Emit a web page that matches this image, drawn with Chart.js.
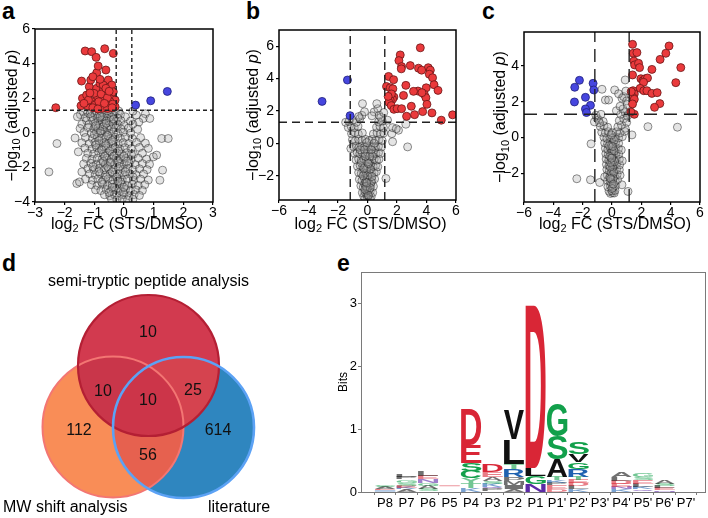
<!DOCTYPE html>
<html lang="en">
<head>
<meta charset="UTF-8" />
<title>STS proteolysis figure</title>
<script src="https://cdn.jsdelivr.net/npm/chart.js"></script>
<style>
  body { margin: 0; width: 708px; height: 518px; background: #fff; position: relative; overflow: hidden;
         font-family: "Liberation Sans", Arial, sans-serif; color: #000; }
  canvas { position: absolute; }
  .tag { position: absolute; font-weight: bold; font-size: 23px; line-height: 1; }
  .vname { position: absolute; font-size: 16px; line-height: 1; white-space: nowrap; }
</style>
</head>
<body>
<div class="tag" style="left:2px;top:0px">a</div>
<div class="tag" style="left:246px;top:0px">b</div>
<div class="tag" style="left:482px;top:0px">c</div>
<div class="tag" style="left:2px;top:252px">d</div>
<div class="tag" style="left:337px;top:252px">e</div>

<canvas id="volA" width="236" height="240" style="left:0;top:0"></canvas>
<canvas id="volB" width="236" height="240" style="left:236px;top:0"></canvas>
<canvas id="volC" width="236" height="240" style="left:472px;top:0"></canvas>
<canvas id="venn" width="330" height="278" style="left:0;top:240px"></canvas>
<canvas id="logo" width="378" height="278" style="left:330px;top:240px"></canvas>

<div class="vname" style="left:48px;top:273px">semi-tryptic peptide analysis</div>
<div class="vname" style="left:3px;top:499px">MW shift analysis</div>
<div class="vname" style="left:208px;top:499px">literature</div>

<script>
// ---------- data ----------
const pCut = 1.3;

// panel a
const aXTicks = [-3, -2, -1, 0, 1, 2, 3];
const aYTicks = [-4, -2, 0, 2, 4, 6];
const aFcCut = [-0.263, 0.263];
const aRed = [
  [-1.31,4.73],[-1.09,4.69],[-0.94,4.36],[-0.65,4.86],[-0.36,4.59],[-1.43,2.99],[-1.17,2.66],[-1.12,3.05],
  [-0.92,3.47],[-0.87,3.86],[-0.61,3.63],[-1.05,3.24],[-2.30,1.45],[-1.45,1.56],[-1.23,1.56],[-1.40,1.99],
  [-1.26,2.18],[-0.92,2.57],[-0.81,2.86],[-0.70,2.47],[-0.53,3.05],[-0.53,2.63],[-0.41,2.76],[-0.58,2.28],
  [-0.41,2.18],[-0.30,1.89],[-0.30,1.51],[-0.47,1.80],[-0.64,1.89],[-0.75,2.08],[-0.92,1.99],[-1.09,1.80],
  [-0.81,1.60],[-0.64,1.51],[-0.47,1.51],[-1.01,2.28],[-1.20,1.89],[-0.70,2.76],[-0.92,1.70],[-0.36,2.37],
  [-0.77,2.24],[-0.56,2.03],[-0.38,1.66],[-0.98,1.60],[-1.35,1.70],[-0.85,1.80],[-0.61,2.57],[-0.81,3.09],
  [-0.72,1.42],[-0.55,1.40],[-0.40,1.45],[-1.05,1.45],[-0.88,1.38],[-0.66,1.70],[-0.50,2.40],[-1.15,2.30]
];
const aBlue = [[0.39,1.60],[0.90,1.85],[1.46,2.39]];
const aGrey = [
  [-1.38,1.22],[-1.22,1.18],[-1.08,1.25],[-0.93,1.20],[-0.78,1.24],[-0.62,1.17],[-0.47,1.23],[-0.30,1.19],[-0.18,1.26],
  [-1.47,1.05],[-1.15,1.08],[-0.98,1.02],[-0.83,1.10],[-0.66,1.04],[-0.51,1.09],[-0.34,1.01],[-0.12,1.06],[0.42,1.02],[0.72,1.10],[0.30,1.25],
  [-1.57,0.93],[-1.30,0.88],[-1.12,0.93],[-0.90,0.86],[-0.72,0.92],[-0.58,0.84],[-0.42,0.90],[-0.22,0.85],[0.05,0.92],[0.65,0.83],[0.87,0.83],
  [-1.26,0.70],[-1.05,0.72],[-0.88,0.66],[-0.74,0.74],[-0.60,0.68],[-0.44,0.72],[-0.28,0.65],[-0.10,0.70],[0.22,0.68],[0.50,0.62],
  [-1.42,0.50],[-1.18,0.46],[-0.97,0.53],[-0.82,0.44],[-0.66,0.50],[-0.52,0.43],[-0.37,0.52],[-0.20,0.47],[0.00,0.42],[0.30,0.50],
  [-1.48,0.25],[-1.22,0.30],[-1.02,0.22],[-0.88,0.28],[-0.73,0.20],[-0.58,0.27],[-0.43,0.21],[-0.28,0.29],[-0.10,0.22],[0.15,0.27],[0.46,0.20],
  [-1.35,0.02],[-1.10,-0.03],[-0.93,0.05],[-0.79,-0.02],[-0.64,0.04],[-0.50,-0.05],[-0.35,0.03],[-0.20,-0.04],[-0.02,0.03],[0.22,-0.02],
  [-1.65,-0.30],[-1.30,-0.27],[-1.06,-0.33],[-0.90,-0.25],[-0.74,-0.31],[-0.60,-0.24],[-0.45,-0.34],[-0.30,-0.26],[-0.12,-0.32],[0.05,-0.25],[0.28,-0.33],[0.56,-0.28],[1.27,-0.33],[1.49,-0.33],
  [-2.26,-0.62],[-1.42,-0.58],[-1.17,-0.63],[-0.98,-0.56],[-0.83,-0.64],[-0.67,-0.57],[-0.52,-0.62],[-0.36,-0.55],[-0.20,-0.63],[-0.03,-0.57],[0.16,-0.62],[0.42,-0.55],[0.72,-0.60],
  [-1.32,-0.88],[-1.08,-0.94],[-0.92,-0.86],[-0.76,-0.93],[-0.60,-0.87],[-0.45,-0.95],[-0.30,-0.86],[-0.14,-0.93],[0.04,-0.87],[0.24,-0.92],[0.52,-0.85],[0.82,-0.90],
  [-1.54,-1.10],[-1.22,-1.18],[-1.02,-1.22],[-0.85,-1.15],[-0.70,-1.23],[-0.55,-1.16],[-0.40,-1.24],[-0.25,-1.15],[-0.08,-1.22],[0.10,-1.16],[0.32,-1.24],[0.62,-1.18],[0.99,-1.39],[1.10,-1.29],
  [-1.27,-1.48],[-1.08,-1.54],[-0.90,-1.47],[-0.74,-1.55],[-0.58,-1.46],[-0.43,-1.53],[-0.27,-1.47],[-0.10,-1.55],[0.06,-1.48],[0.24,-1.54],[0.48,-1.47],[0.76,-1.52],
  [-1.36,-1.80],[-1.12,-1.76],[-0.94,-1.84],[-0.79,-1.77],[-0.63,-1.83],[-0.48,-1.76],[-0.32,-1.84],[-0.16,-1.78],[0.00,-1.83],[0.18,-1.77],[0.38,-1.84],[0.62,-1.78],[0.86,-1.82],
  [-1.22,-2.07],[-1.02,-2.13],[-0.84,-2.06],[-0.67,-2.14],[-0.52,-2.07],[-0.36,-2.13],[-0.20,-2.06],[-0.04,-2.12],[0.12,-2.07],[0.30,-2.14],[0.52,-2.08],[0.78,-2.13],[1.30,-2.16],
  [-2.53,-2.26],[-1.42,-2.26],[-1.16,-2.38],[-0.97,-2.43],[-0.80,-2.36],[-0.63,-2.44],[-0.47,-2.37],[-0.31,-2.43],[-0.15,-2.36],[0.02,-2.43],[0.20,-2.37],[0.40,-2.42],[0.66,-2.38],
  [-1.30,-2.68],[-1.06,-2.74],[-0.88,-2.67],[-0.70,-2.74],[-0.54,-2.67],[-0.38,-2.73],[-0.22,-2.66],[-0.06,-2.72],[0.12,-2.67],[0.32,-2.74],[0.56,-2.68],[0.82,-2.73],[1.21,-2.74],
  [-1.59,-2.93],[-1.50,-2.84],[-1.10,-3.00],[-0.90,-3.05],[-0.72,-2.98],[-0.56,-3.04],[-0.40,-2.97],[-0.24,-3.04],[-0.08,-2.98],[0.10,-3.05],[0.28,-2.98],[0.48,-3.04],[0.70,-3.00],
  [-0.96,-3.30],[-0.78,-3.34],[-0.60,-3.28],[-0.44,-3.35],[-0.28,-3.29],[-0.12,-3.35],[0.05,-3.28],[0.22,-3.34],[0.40,-3.30],[0.62,-3.33],
  [-0.66,-3.58],[-0.48,-3.64],[-0.32,-3.57],[-0.16,-3.63],[0.00,-3.58],[0.17,-3.64],[0.34,-3.57],[0.52,-3.62],
  [-0.42,-3.84],[-0.24,-3.88],[-0.06,-3.83],[0.12,-3.87],[0.30,-3.84],
  [-0.85,-0.45],[-0.62,-0.75],[-0.48,-1.05],[-0.35,-1.35],[-0.22,-1.65],[-0.55,-1.95],[-0.40,-2.25],[-0.25,-2.55],[-0.12,-2.85],[-0.32,-3.15],
  [-0.70,-1.65],[-0.15,-1.95],[-0.60,-2.55],[0.05,-2.25],[-0.02,-3.45],[-0.50,-3.45],[-0.95,-0.70],[-0.75,-1.00],[-1.00,-0.10],[-0.70,0.35],
  [-0.80,0.10],[-0.55,-0.15],[-0.40,-0.45],[-0.65,-1.35],[-0.18,-1.05],[0.00,-1.35],[-0.45,-1.70],[0.10,-1.65],[-0.85,-2.25],[-0.20,-2.80],
  [0.00,-3.15],[-0.40,-3.15],[-0.75,-2.85],[0.30,-2.55],[-1.05,-1.95],[0.25,-1.25],[-0.60,0.55],[-0.95,0.40],[-0.35,0.80],[-0.80,0.95]
];

// panel b
const bXTicks = [-6, -4, -2, 0, 2, 4, 6];
const bYTicks = [-2, 0, 2, 4, 6];
const bFcCut = [-1.17, 1.17];
const bRed = [
  [3.58,5.90],[2.22,5.46],[2.13,5.11],[2.31,4.74],[2.29,4.60],[2.90,4.80],[4.12,4.67],[4.26,4.52],[3.46,4.64],
  [3.67,4.52],[1.43,4.13],[1.77,3.93],[4.19,4.27],[4.41,4.05],[1.29,3.51],[1.54,3.43],[1.72,3.37],[2.60,3.58],
  [3.42,3.23],[3.12,3.21],[3.98,3.43],[4.51,3.62],[4.78,3.27],[1.79,2.86],[1.70,2.72],[2.44,2.96],[3.85,3.03],
  [3.96,2.82],[3.69,3.13],[1.54,2.66],[1.45,2.53],[1.61,2.33],[1.79,2.10],[2.01,2.14],[2.97,2.29],[4.03,2.41],
  [2.31,2.14],[2.65,1.67],[3.19,1.77],[3.74,1.96],[4.37,1.88],[5.00,1.43],[5.77,1.76],[1.62,3.05],[1.40,2.90]
];
const bBlue = [[-1.36,3.91],[-3.08,2.59],[-1.18,1.71]];
const bGrey = [
  [-0.15,-3.42],[0.00,-3.38],[0.15,-3.40],[-0.25,-3.28],[0.08,-3.25],[0.25,-3.30],[-0.05,-3.18],
  [-0.35,-3.05],[-0.18,-3.00],[0.00,-3.08],[0.18,-2.98],[0.35,-3.04],[-0.08,-2.92],[0.10,-2.88],
  [-0.45,-2.62],[-0.28,-2.70],[-0.12,-2.60],[0.05,-2.68],[0.22,-2.58],[0.40,-2.66],[-0.20,-2.50],[0.12,-2.48],[-0.02,-2.80],
  [-0.55,-2.22],[-0.38,-2.30],[-0.20,-2.18],[-0.05,-2.26],[0.12,-2.20],[0.30,-2.28],[0.48,-2.20],[1.25,-2.17],[0.00,-2.08],[-0.12,-2.38],
  [-0.60,-1.80],[-0.42,-1.86],[-0.25,-1.76],[-0.08,-1.84],[0.10,-1.78],[0.28,-1.86],[0.45,-1.80],[0.60,-1.75],[-0.15,-1.68],[0.02,-1.95],
  [-0.68,-1.42],[-0.50,-1.36],[-0.32,-1.44],[-0.15,-1.38],[0.02,-1.45],[0.20,-1.36],[0.38,-1.43],[0.55,-1.37],[0.70,-1.45],[0.10,-1.28],[-0.05,-1.58],
  [-0.78,-1.02],[-0.60,-0.96],[-0.42,-1.05],[-0.25,-0.97],[-0.08,-1.04],[0.10,-0.96],[0.28,-1.05],[0.45,-0.98],[0.62,-1.04],[0.78,-0.98],[0.00,-1.15],
  [-0.88,-0.62],[-0.70,-0.56],[-0.52,-0.64],[-0.34,-0.57],[-0.16,-0.63],[0.02,-0.56],[0.20,-0.64],[0.38,-0.57],[0.56,-0.63],[0.75,-0.56],[0.90,-0.62],[-1.13,-0.32],
  [-0.95,-0.20],[-0.76,-0.16],[-0.57,-0.24],[-0.38,-0.17],[-0.20,-0.23],[0.00,-0.15],[0.18,-0.22],[0.36,-0.16],[0.55,-0.24],[0.74,-0.18],[0.95,-0.22],[2.72,-0.22],
  [-1.02,0.22],[-0.82,0.16],[-0.60,0.24],[-0.38,0.18],[-0.15,0.25],[0.10,0.17],[0.32,0.24],[0.55,0.18],[0.78,0.23],[1.00,0.16],[1.70,0.10],
  [-1.08,0.60],[-0.85,0.66],[-0.62,0.58],[-0.35,0.64],[0.40,0.58],[0.65,0.65],[0.88,0.58],[1.10,0.64],[1.65,0.60],
  [-1.30,0.98],[-1.10,1.04],[-0.90,0.97],[-0.65,1.05],[0.62,0.98],[0.85,1.04],[1.08,0.96],[1.70,0.97],[2.10,0.81],[1.95,0.90],
  [-1.48,1.30],[-1.25,1.36],[-1.00,1.43],[-0.75,1.30],[0.75,1.32],[1.00,1.38],[1.36,1.43],[2.60,1.18],
  [-0.52,1.53],[-0.38,1.73],[-0.60,1.65],[0.45,1.94],[0.70,2.14],[0.63,2.45],[-0.34,2.45],[0.79,1.73],[0.90,1.60],[1.10,1.90],[0.30,1.70],[-0.20,1.95],
  [-0.10,-2.65],[0.25,-2.40],[-0.30,-2.00],[0.20,-1.60],[-0.40,-1.20],[0.35,-0.80],[-0.50,-0.40],[0.45,0.00],[-0.20,-0.40],[0.15,-0.80],
  [0.05,-3.20],[-0.18,-2.85],[0.18,-2.75],[-0.05,-2.45],[-0.25,-1.55],[0.30,-2.05],[0.05,-1.25],[-0.15,-0.80],[0.25,-0.40],[-0.05,0.05]
];

// panel c
const cXTicks = [-6, -4, -2, 0, 2, 4, 6];
const cYTicks = [-2, 0, 2, 4];
const cFcCut = [-1.17, 1.17];
const cRed = [
  [1.40,5.21],[1.45,4.71],[1.70,4.75],[1.49,4.28],[1.54,4.06],[1.81,4.15],[1.88,3.91],[1.40,3.50],[3.89,5.12],
  [3.67,4.71],[3.28,4.37],[2.72,3.81],[4.69,3.91],[4.35,3.07],[1.97,3.29],[2.11,3.18],[2.26,3.29],[2.42,3.33],
  [2.15,3.09],[1.92,2.75],[2.17,2.62],[2.38,2.62],[2.72,2.47],[3.08,2.51],[1.43,2.62],[1.52,2.44],[1.43,2.25],
  [1.52,2.14],[1.40,1.88],[3.26,1.90],[2.90,1.69],[1.52,1.30],[1.29,1.43],[1.31,2.57]
];
const cBlue = [[-2.22,3.20],[-2.54,2.81],[-1.29,3.03],[-1.24,2.66],[-1.81,2.25],[-2.56,1.99],[-1.47,1.80],[-1.81,1.60],[-1.74,1.40]];
const cGrey = [
  [-0.10,-3.12],[0.05,-3.08],[0.15,-3.10],[-0.20,-3.00],[0.00,-2.98],[0.20,-2.95],
  [-0.28,-2.75],[-0.10,-2.70],[0.08,-2.78],[0.25,-2.68],[0.68,-2.64],[1.09,-3.01],[-0.84,-2.51],[-1.47,-2.36],[-2.40,-2.30],
  [-0.30,-2.40],[-0.12,-2.46],[0.05,-2.38],[0.22,-2.45],[0.38,-2.35],[-0.02,-2.58],
  [-0.32,-2.10],[-0.15,-2.16],[0.02,-2.08],[0.18,-2.15],[0.35,-2.05],[0.55,-2.10],[-0.50,-2.20],[0.08,-2.28],
  [-0.35,-1.78],[-0.18,-1.85],[0.00,-1.76],[0.16,-1.84],[0.32,-1.75],[0.50,-1.80],[-0.05,-1.95],
  [-0.38,-1.50],[-0.20,-1.56],[-0.02,-1.47],[0.15,-1.55],[0.32,-1.46],[0.52,-1.52],[0.06,-1.65],
  [-0.40,-1.20],[-0.22,-1.26],[-0.05,-1.17],[0.12,-1.25],[0.30,-1.16],[0.50,-1.22],[0.70,-1.30],[0.02,-1.35],
  [-0.42,-0.90],[-0.25,-0.95],[-0.08,-0.87],[0.10,-0.94],[0.28,-0.86],[0.46,-0.92],[0.00,-1.05],
  [-0.45,-0.60],[-0.28,-0.66],[-0.10,-0.58],[0.08,-0.65],[0.26,-0.56],[0.44,-0.62],[0.63,-0.69],[0.00,-0.75],
  [-0.50,-0.30],[-0.30,-0.35],[-0.12,-0.27],[0.06,-0.34],[0.25,-0.26],[0.45,-0.32],[-1.43,-0.35],[-0.05,-0.45],
  [-0.55,0.02],[-0.35,-0.04],[-0.15,0.05],[0.05,-0.03],[0.25,0.04],[0.45,-0.02],[0.70,0.05],
  [-0.70,0.30],[-0.45,0.26],[-0.25,0.33],[0.00,0.27],[0.30,0.32],[0.55,0.26],[0.85,0.35],[1.36,0.15],
  [-0.80,0.62],[-0.55,0.66],[-0.30,0.58],[0.40,0.60],[0.90,0.52],[0.65,0.70],[2.45,0.61],[4.46,0.58],
  [-1.02,1.08],[-0.91,0.99],[-0.60,0.90],[-0.85,0.82],[0.50,0.95],[0.80,1.05],[1.00,0.85],[-1.20,0.88],
  [-1.10,1.25],[-0.75,1.30],[0.60,1.30],[0.90,1.40],[1.05,1.20],[0.30,1.50],[0.75,1.60],[0.55,1.75],[0.68,2.20],
  [0.79,2.29],[-0.45,2.10],[-0.23,2.10],[-0.68,2.70],[0.18,2.66],[0.90,3.22],[1.00,2.05],[0.45,2.45],[0.95,2.60],[1.05,1.85],
  [-0.15,-2.25],[0.12,-1.95],[-0.12,-1.65],[0.18,-1.35],[-0.15,-1.05],[0.15,-0.75],[-0.20,-0.45],[0.15,-0.15],[-0.05,0.15],
  [0.00,-2.85],[-0.08,-2.30],[0.10,-2.60],[-0.10,-1.40],[0.05,-0.50],[-0.02,-1.15]
];

// panel d: counts per region
const vennSets = ['semi-tryptic peptide analysis', 'MW shift analysis', 'literature'];
const vennRegions = ['S only', 'S+M', 'S+M+L', 'S+L', 'M only', 'L only', 'M+L'];
const vennCounts = [10, 10, 10, 25, 112, 614, 56];

// panel e: sequence logo, letters listed bottom to top ('-' = empty gap)
const logoPositions = ['P8', 'P7', 'P6', 'P5', 'P4', 'P3', 'P2', 'P1', "P1'", "P2'", "P3'", "P4'", "P5'", "P6'", "P7'"];
const logoLetters = ['KEASG', 'AKESGPL', 'SAGNEL', '-E', 'KTYCSED', 'PQKSAED', 'AIMPRTLV', 'NGLD',
                     'DEPKTASG', 'KLDETRGVS', '', 'KNEDLA', 'QKLESG', 'NELSA', ''];
const logoHeights = [
  [0.025, 0.02, 0.03, 0.02, 0.025],
  [0.04, 0.03, 0.03, 0.05, 0.05, 0.04, 0.03],
  [0.05, 0.05, 0.05, 0.05, 0.06, 0.07],
  [0.095, 0.01],
  [0.07, 0.08, 0.07, 0.12, 0.12, 0.29, 0.57],
  [0.05, 0.03, 0.05, 0.05, 0.06, 0.08, 0.11],
  [0.05, 0.06, 0.07, 0.06, 0.12, 0.09, 0.39, 0.46],
  [0.13, 0.12, 0.13, 2.58],
  [0.05, 0.06, 0.04, 0.04, 0.05, 0.28, 0.37, 0.53],
  [0.04, 0.05, 0.05, 0.05, 0.05, 0.12, 0.11, 0.13, 0.18],
  [],
  [0.04, 0.04, 0.05, 0.05, 0.06, 0.08],
  [0.04, 0.04, 0.05, 0.06, 0.05, 0.06],
  [0.03, 0.03, 0.03, 0.04, 0.05],
  []
];
const logoYTicks = [0, 1, 2, 3];

// ---------- common ----------
const FONT = "'Liberation Sans', Arial, sans-serif";
Chart.defaults.font.family = FONT;
Chart.defaults.font.size = 14;
Chart.defaults.color = '#000';
Chart.defaults.animation = false;

const minus = v => String(v).replace('-', '\u2212');

// text with subscript / italic parts, centred on (cx, cy)
function drawRich(ctx, parts, cx, cy, angle) {
  const fontFor = p => (p.it ? 'italic ' : '') + (p.sub ? '11px ' : '16px ') + FONT;
  let total = 0;
  parts.forEach(p => { ctx.font = fontFor(p); p.w = ctx.measureText(p.t).width; total += p.w; });
  ctx.save();
  ctx.translate(cx, cy);
  ctx.rotate(angle);
  ctx.fillStyle = '#000';
  ctx.textAlign = 'left';
  ctx.textBaseline = 'alphabetic';
  let x = -total / 2;
  parts.forEach(p => { ctx.font = fontFor(p); ctx.fillText(p.t, x, p.sub ? 9 : 5.5); x += p.w; });
  ctx.restore();
}

const xTitle = [{ t: 'log' }, { t: '2', sub: true }, { t: ' FC (STS/DMSO)' }];
const yTitle = [{ t: '\u2212log' }, { t: '10', sub: true }, { t: ' (adjusted ' }, { t: 'p', it: true }, { t: ')' }];

const frameTitles = {
  id: 'frameTitles',
  afterDraw(chart, args, opts) {
    const { ctx, chartArea: a } = chart;
    ctx.save();
    ctx.strokeStyle = '#000';
    ctx.lineWidth = 1.5;
    ctx.strokeRect(a.left, a.top, a.right - a.left, a.bottom - a.top);
    ctx.restore();
    drawRich(ctx, xTitle, (a.left + a.right) / 2 + 3, opts.xTitleY, 0);
    drawRich(ctx, yTitle, opts.yTitleX, (a.top + a.bottom) / 2, -Math.PI / 2);
  }
};

function volcano(id, c) {
  const pt = (data, fill, border, order) => ({
    data, order, showLine: false,
    pointRadius: 4, pointBackgroundColor: fill, pointBorderColor: border, pointBorderWidth: 0.8
  });
  const datasets = [
    pt(c.grey, 'rgba(170,170,170,0.32)', 'rgba(30,30,30,0.62)', 3),
    pt(c.red, '#ea3a3c', '#6a1616', 2),
    pt(c.blue, '#4646df', '#20207a', 1)
  ];
  const line = data => ({ data, order: 0, showLine: true, pointRadius: 0, borderColor: '#222',
                          borderWidth: 1.4, borderDash: c.dash });
  c.fcCut.forEach(v => datasets.push(line([[v, c.yMin], [v, c.yMax]])));
  datasets.push(line([[c.xTicks[0], pCut], [c.xTicks[c.xTicks.length - 1], pCut]]));

  const tickGrid = { display: true, drawOnChartArea: false, drawTicks: true, tickLength: 3, color: '#000', lineWidth: 1.2 };
  return new Chart(document.getElementById(id), {
    type: 'scatter',
    data: { datasets },
    options: {
      responsive: false,
      events: [],
      layout: { padding: c.pad, autoPadding: false },
      plugins: { legend: { display: false }, tooltip: { enabled: false }, frameTitles: { xTitleY: 223, yTitleX: c.yTitleX } },
      scales: {
        x: {
          type: 'linear', min: c.xTicks[0], max: c.xTicks[c.xTicks.length - 1],
          afterBuildTicks: s => { s.ticks = c.xTicks.map(v => ({ value: v })); },
          afterFit: s => { s.height = c.xh; },
          grid: tickGrid, border: { display: false },
          ticks: { padding: 0, maxRotation: 0, autoSkip: false, callback: minus }
        },
        y: {
          type: 'linear', min: c.yMin, max: c.yMax,
          afterBuildTicks: s => { s.ticks = c.yTicks.map(v => ({ value: v })); },
          afterFit: s => { s.width = c.yw; },
          grid: tickGrid, border: { display: false },
          ticks: { padding: 2, autoSkip: false, callback: minus }
        }
      }
    },
    plugins: [frameTitles]
  });
}

volcano('volA', { grey: aGrey, red: aRed, blue: aBlue, fcCut: aFcCut, xTicks: aXTicks, yTicks: aYTicks,
  yMin: -4, yMax: 6, dash: [4, 3], pad: { left: 2, top: 29, right: 23, bottom: 7 }, yw: 33, xh: 31, yTitleX: 11 });
volcano('volB', { grey: bGrey, red: bRed, blue: bBlue, fcCut: bFcCut, xTicks: bXTicks, yTicks: bYTicks,
  yMin: -3.5, yMax: 7, dash: [8, 5], pad: { left: 5, top: 30, right: 16, bottom: 7 }, yw: 38, xh: 33, yTitleX: 16 });
volcano('volC', { grey: cGrey, red: cRed, blue: cBlue, fcCut: cFcCut, xTicks: cXTicks, yTicks: cYTicks,
  yMin: -3.6, yMax: 5.9, dash: [13, 7], pad: { left: 17, top: 32, right: 8, bottom: 7 }, yw: 35, xh: 31, yTitleX: 27.5 });

// ---------- venn (d) ----------
// layout in canvas units: circle centres and radius, region label anchors
const vennCentres = [[148.5, 125.5], [113, 187], [183.5, 187.5]];
const vennRadius = 70.5;
const vennAnchors = [[148, 93], [103, 152], [148, 161], [193, 151], [79, 191], [218, 191], [148, 216]];
const vennFill = ['#d23a4f', '#f98d57', '#2f86bf'];
const vennBorder = ['#b41f34', '#f37673', '#5ca2f5'];
const vennOrder = [1, 2, 0];

const vennPlugin = {
  id: 'vennPlugin',
  beforeDatasetsDraw(chart) {
    // paint the base discs in a fixed order instead of the default bubbles
    const ctx = chart.ctx;
    const els = chart.getDatasetMeta(0).data;
    vennOrder.forEach(i => {
      ctx.beginPath();
      ctx.arc(els[i].x, els[i].y, els[i].options.radius, 0, Math.PI * 2);
      ctx.fillStyle = vennFill[i];
      ctx.fill();
    });
    return false;
  },
  afterDraw(chart) {
    const ctx = chart.ctx;
    const els = chart.getDatasetMeta(0).data;
    const arc = i => { ctx.beginPath(); ctx.arc(els[i].x, els[i].y, els[i].options.radius, 0, Math.PI * 2); };
    const overlap = (list, colour) => {
      ctx.save();
      list.forEach(i => { arc(i); ctx.clip(); });
      ctx.fillStyle = colour;
      ctx.fillRect(0, 0, chart.width, chart.height);
      ctx.restore();
    };
    overlap([1, 2], '#e6614f');
    overlap([0, 1], '#c9364a');
    overlap([0, 2], '#d5434f');
    overlap([0, 1, 2], '#cc3549');
    [[1, 2], [0, 2.2], [2, 2.6]].forEach(([i, w]) => {
      arc(i); ctx.strokeStyle = vennBorder[i]; ctx.lineWidth = w; ctx.stroke();
    });
    ctx.fillStyle = '#111';
    ctx.font = '16px ' + FONT;
    ctx.textAlign = 'center';
    ctx.textBaseline = 'middle';
    const xs = chart.scales.x, ys = chart.scales.y;
    vennCounts.forEach((n, k) => {
      ctx.fillText(String(n), xs.getPixelForValue(vennAnchors[k][0]), ys.getPixelForValue(vennAnchors[k][1]));
    });
  }
};

new Chart(document.getElementById('venn'), {
  type: 'bubble',
  data: {
    datasets: [{
      data: [0, 1, 2].map(i => ({ x: vennCentres[i][0], y: vennCentres[i][1], r: vennRadius })),
      backgroundColor: vennFill,
      borderWidth: 0
    }]
  },
  options: {
    responsive: false,
    events: [],
    layout: { padding: 0, autoPadding: false },
    plugins: { legend: { display: false }, tooltip: { enabled: false } },
    scales: {
      x: { display: false, min: 0, max: 330 },
      y: { display: false, min: 0, max: 278, reverse: true }
    }
  },
  plugins: [vennPlugin]
});

// ---------- sequence logo (e) ----------
const letterColour = l => {
  if ('GSTYC'.includes(l)) return '#12a04b';
  if ('NQ'.includes(l)) return '#5b2aa6';
  if ('KRH'.includes(l)) return '#1f62b0';
  if ('DE'.includes(l)) return '#d92636';
  return '#111';
};

const depth = Math.max(...logoLetters.map(s => s.length));
const logoSets = [];
for (let k = 0; k < depth; k++) {
  logoSets.push({
    data: logoPositions.map((p, i) => ({ x: i, y: logoHeights[i][k] || 0 })),
    backgroundColor: 'rgba(0,0,0,0)',
    borderWidth: 0,
    barPercentage: 0.95,
    categoryPercentage: 1
  });
}

const glyphCache = {};
const logoPlugin = {
  id: 'logoPlugin',
  afterDatasetsDraw(chart) {
    const ctx = chart.ctx;
    const big = 'bold 100px ' + FONT;
    chart.data.datasets.forEach((d, k) => {
      chart.getDatasetMeta(k).data.forEach((bar, i) => {
        const l = logoLetters[i][k];
        if (!l || l === '-') return;
        const { x, y, base, width } = bar.getProps(['x', 'y', 'base', 'width'], true);
        const h = Math.abs(base - y);
        if (h <= 0) return;
        const top = Math.min(y, base);
        ctx.save();
        ctx.fillStyle = letterColour(l);
        // tiny letters look washed out in the original
        if (h < 6) ctx.globalAlpha = 0.6;
        if (h < 1.2) {
          ctx.fillRect(x - width / 2, top, width, Math.max(h, 0.8));
        } else {
          ctx.font = big;
          ctx.textAlign = 'left';
          ctx.textBaseline = 'alphabetic';
          if (!glyphCache[l]) glyphCache[l] = ctx.measureText(l);
          const m = glyphCache[l];
          const gw = m.actualBoundingBoxLeft + m.actualBoundingBoxRight;
          const gh = m.actualBoundingBoxAscent + m.actualBoundingBoxDescent;
          ctx.translate(x - width / 2, top);
          ctx.scale(width / gw, h / gh);
          ctx.fillText(l, m.actualBoundingBoxLeft, m.actualBoundingBoxAscent);
        }
        ctx.restore();
      });
    });
    const a = chart.chartArea;
    ctx.save();
    ctx.strokeStyle = '#7a7a7a';
    ctx.lineWidth = 1;
    ctx.strokeRect(a.left + 0.5, a.top + 0.5, a.right - a.left - 1, a.bottom - a.top);
    ctx.restore();
  }
};

const logoGrid = { display: true, drawOnChartArea: false, drawTicks: true, tickLength: 3, color: '#7a7a7a', lineWidth: 1 };
new Chart(document.getElementById('logo'), {
  type: 'bar',
  data: { datasets: logoSets },
  options: {
    responsive: false,
    events: [],
    layout: { padding: { left: 6, top: 32, right: 2, bottom: 2 }, autoPadding: false },
    plugins: { legend: { display: false }, tooltip: { enabled: false } },
    scales: {
      x: {
        type: 'linear', stacked: true, min: -1.12, max: 14.93, offset: false,
        afterBuildTicks: s => { s.ticks = logoPositions.map((p, i) => ({ value: i })); },
        afterFit: s => { s.height = 24; },
        grid: logoGrid, border: { display: false },
        ticks: { padding: 1, font: { size: 13 }, maxRotation: 0, autoSkip: false, callback: v => logoPositions[v] }
      },
      y: {
        stacked: true, min: 0, max: 3.5,
        afterBuildTicks: s => { s.ticks = logoYTicks.map(v => ({ value: v })); },
        afterFit: s => { s.width = 25; },
        grid: logoGrid, border: { display: false },
        title: { display: true, text: 'Bits', font: { size: 12 }, padding: 0 },
        ticks: { padding: 1, font: { size: 13 } }
      }
    }
  },
  plugins: [logoPlugin]
});
</script>
</body>
</html>
